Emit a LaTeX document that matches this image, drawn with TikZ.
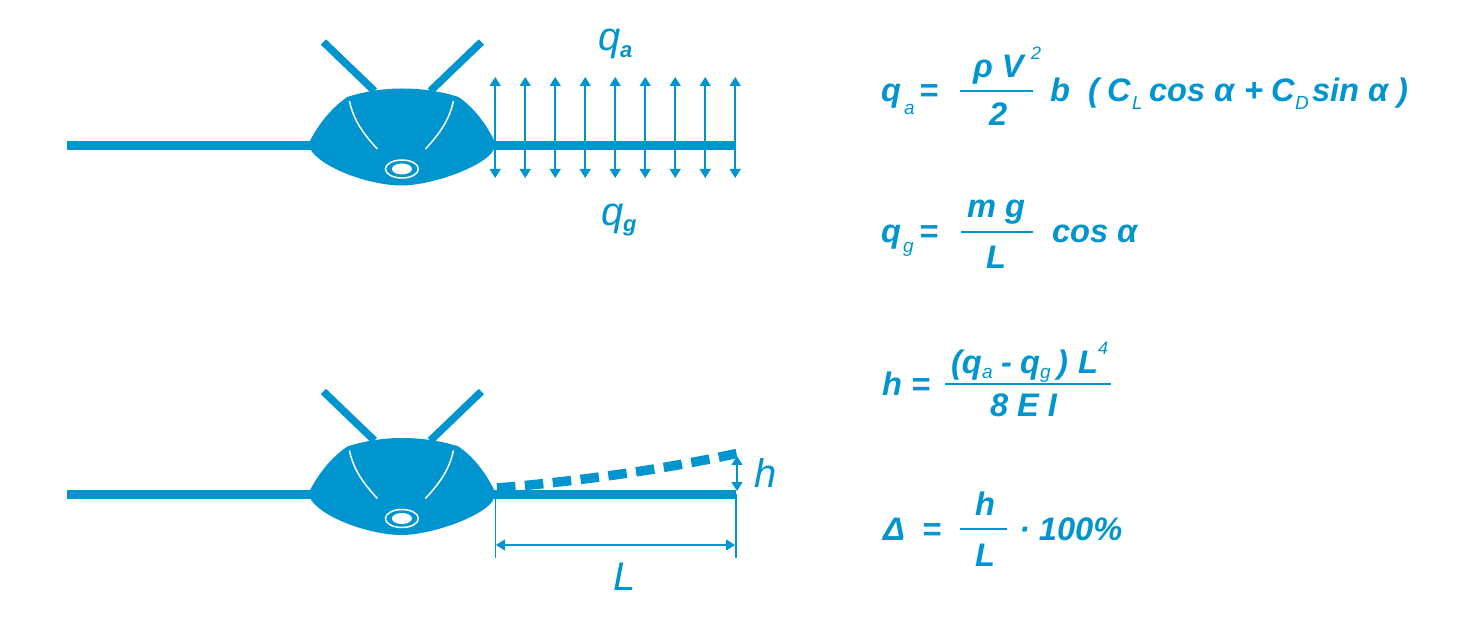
\documentclass[tikz,border=0pt]{standalone}
\usepackage{fontspec}
\usepackage{tikz}
\usetikzlibrary{arrows.meta}
\setmainfont{Liberation Sans}
\definecolor{wingblue}{HTML}{0095CF}

\begin{document}
\begin{tikzpicture}[x=1pt,y=-1pt,every node/.style={inner sep=0pt,outer sep=0pt,anchor=base west,text=wingblue},
eqn/.style={font=\fontsize{32.6}{36}\selectfont\bfseries\itshape},
eqnsub/.style={font=\fontsize{19}{20}\selectfont\itshape},
eqnsup/.style={font=\fontsize{18}{20}\selectfont\itshape},
lbl/.style={font=\fontsize{40}{44}\selectfont\itshape},
lblsub/.style={font=\fontsize{22}{24}\selectfont\bfseries\itshape},
thickbar/.style={draw=wingblue,line width=9pt},
fracbar/.style={draw=wingblue,line width=2.6pt},
thinline/.style={draw=wingblue,line width=1.5pt},
twotip/.style={thinline,{Triangle[width=11pt,length=9pt]}-{Triangle[width=11pt,length=9pt]}}]
\useasboundingbox (0,0) rectangle (1474,617);

\foreach \yoff/\wname in {0/up,349.5/low}{
\begin{scope}[shift={(0.4,\yoff)}]
	\draw[thickbar] (67,145.2) coordinate (rootL\wname) -- (736,145.2) coordinate (tip\wname);
	\draw[wingblue,line width=7.5pt] (323,42) coordinate (strutL\wname) -- (374,91);
	\draw[wingblue,line width=7.5pt] (481,42) coordinate (strutR\wname) -- (430,91);
	\fill[wingblue] (309,142) .. controls (320,120) and (335,105) .. (347,97)
		.. controls (365,91) and (385,88.5) .. (401,88.5)
		.. controls (420,88.5) and (440,91) .. (458,97)
		.. controls (470,105) and (484,120) .. (494.5,142) -- (492,152)
		.. controls (480,168) and (430,185.5) .. (401,185.5)
		.. controls (372,185.5) and (325,170) .. (311,151) -- cycle;
	\draw[white,line width=1.5pt] (349,101) .. controls (353,120) and (363,134) .. (377,149);
	\draw[white,line width=1.5pt] (453,101) .. controls (449,120) and (439,134) .. (425,149);
	\draw[white,line width=1.5pt] (401.5,169) ellipse (16.5 and 9);
	\fill[white] (401.5,169) ellipse (10 and 5.5);
\end{scope}}

\foreach \i in {0,...,8}{
	\coordinate (arrowtop\i) at (495.2+30*\i,77);
	\coordinate (arrowbot\i) at (495.2+30*\i,178);
	\draw[twotip] (arrowtop\i) -- (arrowbot\i);
}

\node[lbl] (qaLabel) at (598,51) {q};
\node[lblsub] (qaLabelSub) at (620,58) {a};
\node[lbl] (qgLabel) at (601,226) {q};
\node[lblsub] (qgLabelSub) at (623,232) {g};

\coordinate (bendstart) at (497,488);
\coordinate (bendend) at (736.5,453.5);
\draw[wingblue,line width=9.5pt,dash pattern=on 18.5pt off 9.5pt] (bendstart) .. controls (580,481) and (660,470) .. (bendend);

\coordinate (hfoot) at (737,491);
\coordinate (htop) at (737,456);
\draw[twotip] (htop) -- (hfoot);
\node[lbl] (hLabel) at (754,487) {h};

\coordinate (dimLtop) at (495.5,494);
\coordinate (dimLbot) at (495.5,558);
\coordinate (dimRtop) at (736,494);
\coordinate (dimRbot) at (736,558);
\coordinate (dimL) at (496,545);
\coordinate (dimR) at (735,545);
\draw[thinline] (dimLtop) -- (dimLbot);
\draw[thinline] (dimRtop) -- (dimRbot);
\draw[twotip] (dimL) -- (dimR);
\node[lbl] (LLabel) at (613,590) {L};

\node[eqn] (qa) at (881,102) {q};
\node[eqnsub] (qaSub) at (904,115) {a};
\node[eqn] (qaEq) at (919,102) {=};
\node[eqn] (rhoV) at (973,78) {ρ V};
\node[eqnsup] (rhoVSq) at (1031,60) {2};
\node[eqn] (two) at (989,126) {2};
\node[eqn] (bwidth) at (1050,102) {b};
\node[eqn] (lpar) at (1088,102) {(};
\node[eqn] (CL) at (1107,102) {C};
\node[eqnsub] (CLSub) at (1132,110) {L};
\node[eqn] (cosA) at (1149,102) {cos α};
\node[eqn] (plus) at (1244,102) {+};
\node[eqn] (CD) at (1271,102) {C};
\node[eqnsub] (CDSub) at (1295,110) {D};
\node[eqn] (sinA) at (1312,102) {sin α};
\node[eqn] (rpar) at (1397,102) {)};
\draw[fracbar] (960,91) -- (1033,91);

\node[eqn] (qg) at (881,243) {q};
\node[eqnsub] (qgSub) at (903,253) {g};
\node[eqn] (qgEq) at (919,243) {=};
\node[eqn] (mg) at (967,218) {m g};
\node[eqn] (Lg) at (986,269) {L};
\node[eqn] (cosB) at (1052,243) {cos α};
\draw[fracbar] (961,232) -- (1033,232);

\node[eqn] (hh) at (882,395) {h};
\node[eqn] (hEq) at (911,395) {=};
\node[eqn] (lq) at (951,373) {(q};
\node[eqnsub] (lqSub) at (982,378) {a};
\node[eqn] (minus) at (1001,373) {-};
\node[eqn] (rq) at (1020,373) {q};
\node[eqnsub] (rqSub) at (1040,378) {g};
\node[eqn] (rq2) at (1057,373) {)};
\node[eqn] (L4) at (1078,373) {L};
\node[eqnsup] (L4Sup) at (1098,354) {4};
\node[eqn] (EI) at (990,416) {8 E I};
\draw[fracbar] (945,384) -- (1111,384);

\node[eqn] (delta) at (883,540) {Δ};
\node[eqn] (dEq) at (922,540) {=};
\node[eqn] (hTop) at (975,515) {h};
\node[eqn] (LBot) at (975,566) {L};
\node[eqn] (cent) at (1019,540) {· 100\%};
\draw[fracbar] (960,529) -- (1007,529);
\end{tikzpicture}
\end{document}
